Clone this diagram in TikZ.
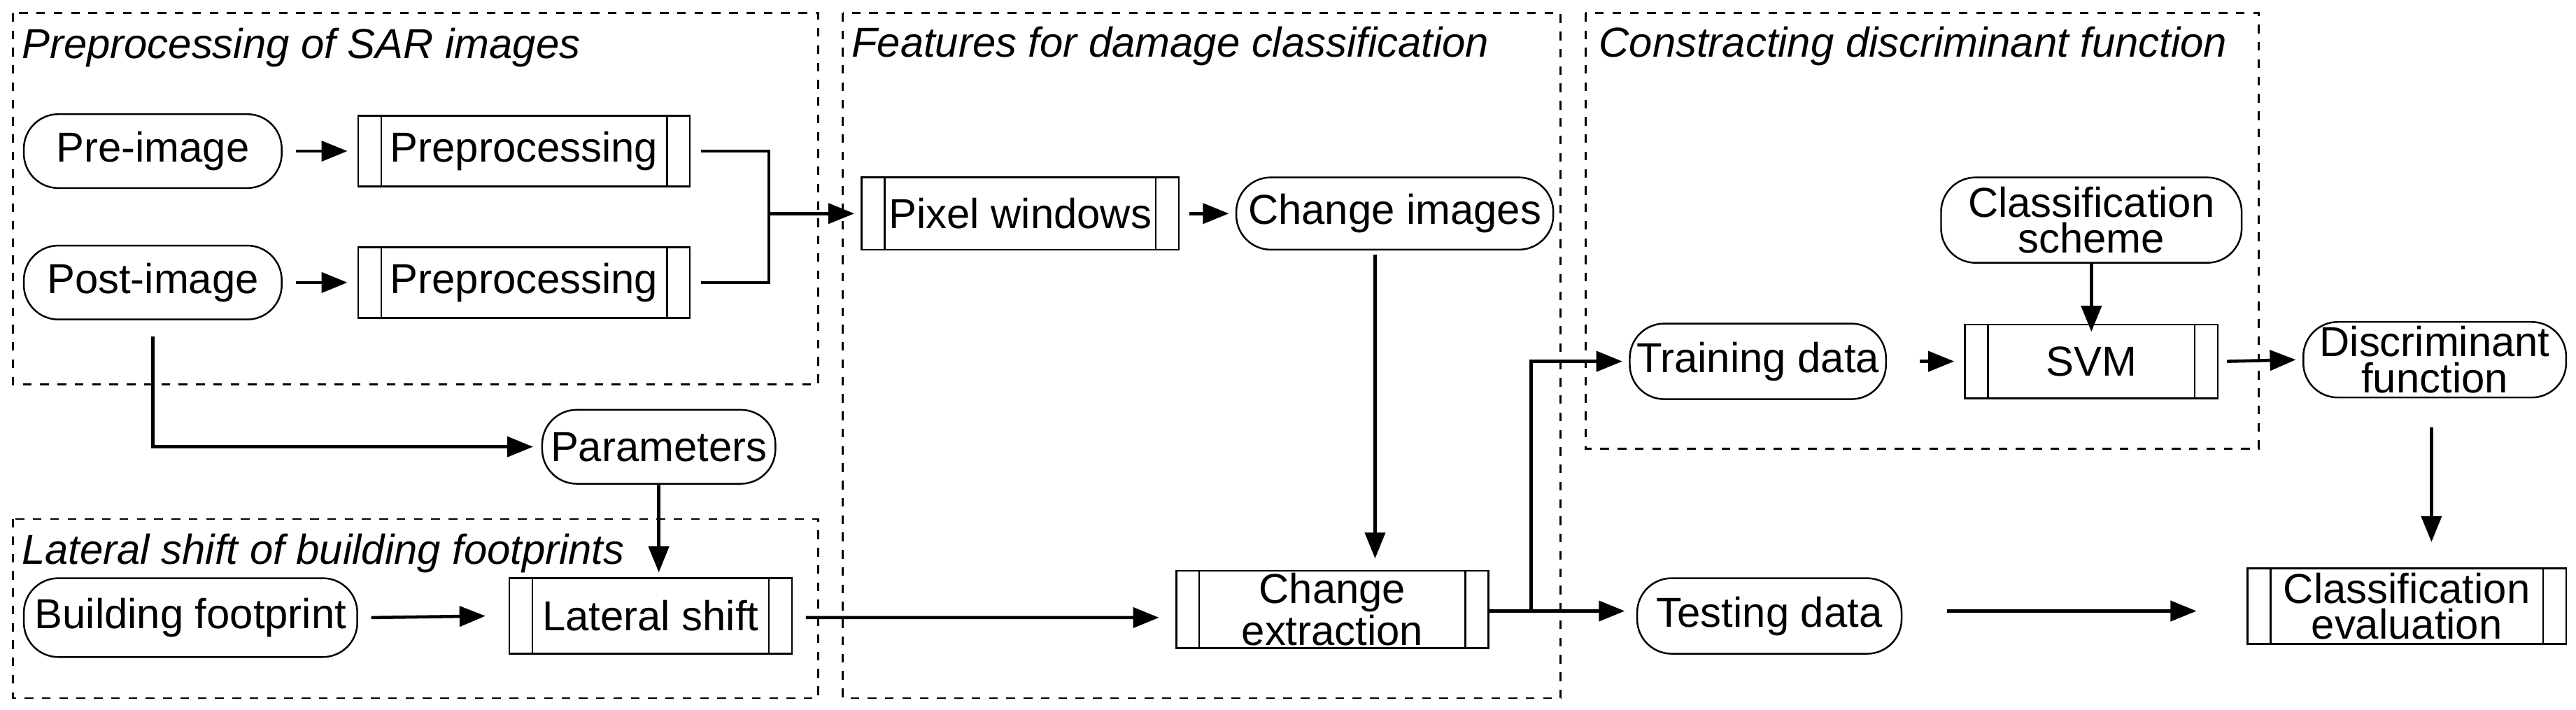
\documentclass[tikz,border=0pt]{standalone}
\usepackage{fontspec}
\setmainfont{Liberation Sans}
\usetikzlibrary{arrows.meta,calc}
\begin{document}
\begin{tikzpicture}[x=0.02cm,y=-0.02cm,
  every node/.style={font=\fontsize{14.5}{12.5}\selectfont, inner sep=0pt, align=center},
  pill/.style={draw, line width=0.6pt, rounded corners=0.42cm},
  proc/.style={draw, line width=0.6pt, path picture={
     \draw[line width=0.6pt] ([xshift=0.28cm]path picture bounding box.north west) -- ([xshift=0.28cm]path picture bounding box.south west);
     \draw[line width=0.6pt] ([xshift=-0.28cm]path picture bounding box.north east) -- ([xshift=-0.28cm]path picture bounding box.south east);}},
  grp/.style={draw, dashed, line width=0.7pt},
  ttl/.style={font=\fontsize{14.5}{15}\selectfont\itshape, anchor=west},
  arr/.style={line width=1.1pt, -{Triangle[length=9pt,width=7pt]}},
  ln/.style={line width=1.1pt}]
\useasboundingbox (0,0) rectangle (1568,432);
% groups
\draw[grp] (8,8) rectangle (498,234);
\draw[grp] (513,8) rectangle (950,425);
\draw[grp] (965,8) rectangle (1375,273);
\draw[grp] (8,316) rectangle (498,425);
\node[ttl] (t1) at (13,29) {Preprocessing of SAR images};
\node[ttl] (t2) at (518,28) {Features for damage classification};
\node[ttl] (t3) at (973,28) {Constracting discriminant function};
\node[ttl] (t4) at (13,337) {Lateral shift of building footprints};
% nodes
\node[pill, minimum width=3.14cm, minimum height=0.9cm] (pre) at (93,92) {Pre-image};
\node[pill, minimum width=3.14cm, minimum height=0.9cm] (post) at (93,172) {Post-image};
\node[proc, minimum width=4.04cm, minimum height=0.86cm] (pp1) at (319,92) {Preprocessing};
\node[proc, minimum width=4.04cm, minimum height=0.86cm] (pp2) at (319,172) {Preprocessing};
\node[proc, minimum width=3.86cm, minimum height=0.88cm] (pw) at (621,130) {Pixel windows};
\node[pill, minimum width=3.86cm, minimum height=0.88cm] (ci) at (849,130) {Change images};
\node[pill, minimum width=3.66cm, minimum height=1.04cm] (cs) at (1273,134) {Classification\\scheme};
\node[pill, minimum width=3.12cm, minimum height=0.92cm] (tr) at (1070,220) {Training data};
\node[proc, minimum width=3.08cm, minimum height=0.9cm] (svm) at (1273,220) {SVM};
\node[pill, minimum width=3.2cm, minimum height=0.92cm] (df) at (1482,219) {Discriminant\\function};
\node[pill, minimum width=2.84cm, minimum height=0.9cm] (par) at (401,272) {Parameters};
\node[pill, minimum width=4.06cm, minimum height=0.96cm] (bf) at (116,376) {Building footprint};
\node[proc, minimum width=3.44cm, minimum height=0.92cm] (ls) at (396,375) {Lateral shift};
\node[proc, minimum width=3.8cm, minimum height=0.94cm] (ce) at (811,371) {Change\\extraction};
\node[pill, minimum width=3.22cm, minimum height=0.92cm] (te) at (1077,375) {Testing data};
\node[proc, minimum width=3.88cm, minimum height=0.92cm] (ev) at (1465,369) {Classification\\evaluation};
% connectors
\draw[arr] ([xshift=0.16cm]pre.east) -- ([xshift=-0.12cm]pp1.west);
\draw[arr] ([xshift=0.16cm]post.east) -- ([xshift=-0.12cm]pp2.west);
\coordinate (m) at (468,130);
\draw[ln] ([xshift=0.12cm]pp1.east) -| (m);
\draw[ln] ([xshift=0.12cm]pp2.east) -| (m);
\draw[arr] (m) -- ([xshift=-0.08cm]pw.west);
\draw[arr] ([xshift=0.12cm]pw.east) -- ([xshift=-0.08cm]ci.west);
\draw[arr] (837,155) -- (837,340);
\draw[arr] ([yshift=-0.2cm]post.south) |- ([xshift=-0.1cm]par.west);
\draw[arr] (par.south) -- ([yshift=0.06cm]ls.north -| par.south);
\draw[arr] ([xshift=0.16cm]bf.east) -- ([xshift=-0.28cm]ls.west);
\draw[arr] ([xshift=0.16cm,yshift=-0.02cm]ls.east) -- ([xshift=-0.2cm,yshift=-0.1cm]ce.west);
\coordinate (s) at (932,372);
\draw[ln] (ce.east |- s) -- (s);
\draw[arr] (s) |- ([xshift=-0.08cm]tr.west);
\draw[arr] (s) -- ([xshift=-0.14cm]te.west |- s);
\draw[arr] ([xshift=0.4cm]tr.east) -- ([xshift=-0.12cm]svm.west);
\draw[arr] (cs.south) -- ([yshift=-0.1cm]svm.north);
\draw[arr] ([xshift=0.1cm]svm.east) -- ([xshift=-0.08cm]df.west);
\coordinate (d1) at (1480,260);
\coordinate (d2) at (1480,330);
\draw[arr] (d1) -- (d2);
\coordinate (e1) at (1185,372);
\coordinate (e2) at (1337,372);
\draw[arr] (e1) -- (e2);
\end{tikzpicture}
\end{document}
